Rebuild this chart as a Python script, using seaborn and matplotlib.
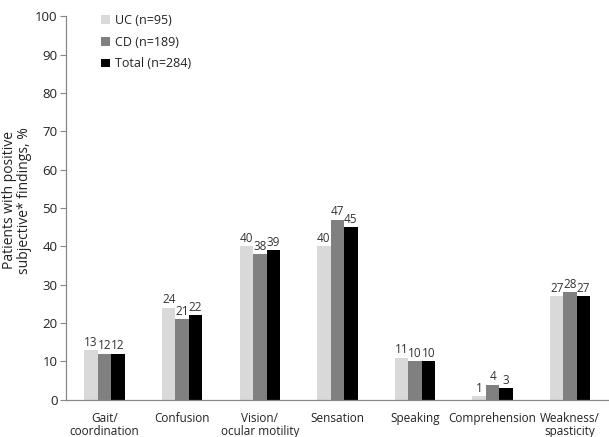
import matplotlib
matplotlib.use("Agg")
import matplotlib.pyplot as plt
import seaborn as sns
import pandas as pd

# data
categories = ["Gait/\ncoordination", "Confusion", "Vision/\nocular motility", "Sensation",
              "Speaking", "Comprehension", "Weakness/\nspasticity"]
groups = ["UC (n=95)", "CD (n=189)", "Total (n=284)"]
uc_vals = [13, 24, 40, 40, 11, 1, 27]
cd_vals = [12, 21, 38, 47, 10, 4, 28]
total_vals = [12, 22, 39, 45, 10, 3, 27]
y_ticks = list(range(0, 101, 10))

PALETTE = ["#D9D9D9", "#808080", "#000000"]

sns.set_theme(style="white")
plt.rcParams["font.family"] = ["Open Sans", "DejaVu Sans"]

df = pd.DataFrame({
    "category": categories * 3,
    "group": [g for g in groups for _ in categories],
    "value": uc_vals + cd_vals + total_vals,
})

fig = plt.figure(figsize=(6.09, 4.37), dpi=100)
ax = fig.add_axes([0.108, 0.085, 0.892, 0.878])

sns.barplot(data=df, x="category", y="value", hue="group", order=categories,
            hue_order=groups, palette=PALETTE, width=0.52, saturation=1,
            edgecolor="none", ax=ax)

for cont in ax.containers:
    ax.bar_label(cont, fmt="%d", padding=1, fontsize=8.5, color="#333333")

ax.set_ylim(0, 100)
ax.set_yticks(y_ticks)
ax.set_xlabel("")
ax.set_ylabel("Patients with positive\nsubjective* findings, %", fontsize=10,
              color="#222222", linespacing=1.0)
ax.yaxis.set_label_coords(-0.062, 0.52)
ax.tick_params(axis="y", which="major", left=True, length=4, width=0.8, color="#888888",
               labelsize=9.5, labelcolor="#222222", pad=2)
ax.tick_params(axis="x", bottom=False, labelsize=8.5, labelcolor="#222222", pad=3)
for lbl in ax.get_xticklabels():
    lbl.set_linespacing(0.95)

for side in ["top", "right"]:
    ax.spines[side].set_visible(False)
for side in ["left", "bottom"]:
    ax.spines[side].set_color("#888888")
    ax.spines[side].set_linewidth(0.9)

leg = ax.legend(loc="upper left", bbox_to_anchor=(0.045, 1.035), frameon=False,
                fontsize=9, handlelength=0.7, handleheight=0.7, handletextpad=0.4,
                labelspacing=0.7)
for t in leg.get_texts():
    t.set_color("#222222")

fig.savefig("out.png", dpi=100)
